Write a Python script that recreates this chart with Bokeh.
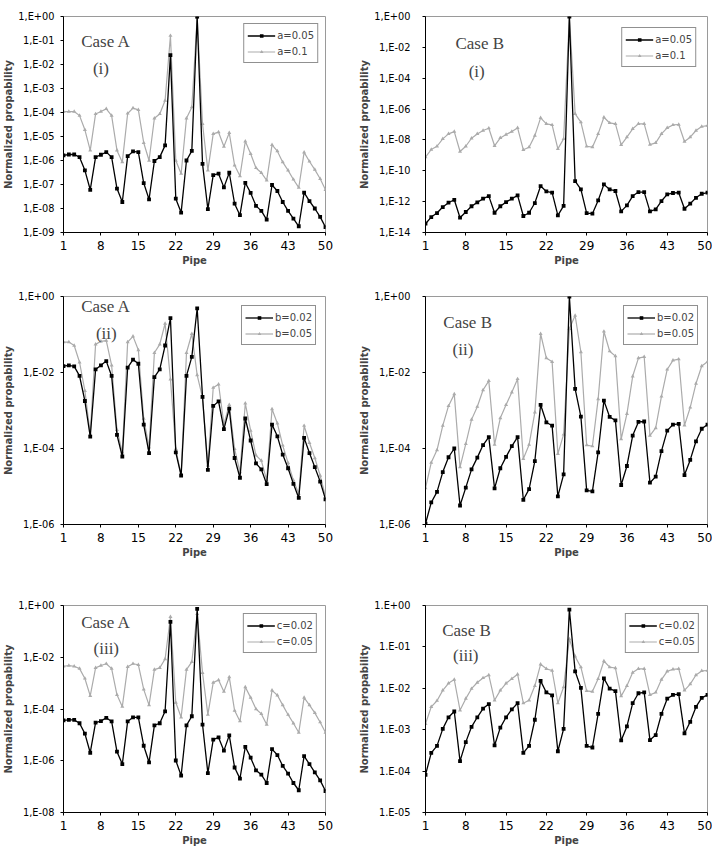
from bokeh.plotting import figure
from bokeh.layouts import column, row
from bokeh.models import FixedTicker, Label, Range1d
from bokeh.embed import file_html
from bokeh.resources import INLINE

pipe = list(range(1, 51))
x_ticks = [1, 8, 15, 22, 29, 36, 43, 50]

# values, stored as log10 of the normalized probability
A_i_a005 = [-5.79, -5.75, -5.75, -5.86, -6.41, -7.22, -5.86, -5.76, -5.65, -5.86,
            -7.17, -7.73, -5.82, -5.62, -5.65, -6.94, -7.62, -6.02, -5.86, -5.37,
            -1.61, -7.59, -8.17, -6.00, -5.60, 0.00, -6.14, -8.03, -6.61, -6.55,
            -7.12, -6.51, -7.80, -8.28, -6.93, -7.35, -7.89, -8.10, -8.46, -7.02,
            -7.27, -7.73, -8.10, -8.42, -8.74, -7.34, -7.69, -8.00, -8.35, -8.78]
A_i_a01 = [-3.96, -3.96, -3.96, -4.13, -4.72, -5.58, -4.06, -3.96, -3.85, -4.13,
           -5.58, -6.07, -4.04, -3.82, -3.89, -5.26, -6.00, -4.24, -4.06, -3.50,
           -0.80, -6.00, -6.55, -4.24, -3.78, -0.04, -4.47, -6.41, -4.89, -4.82,
           -5.42, -4.85, -6.20, -6.65, -5.20, -5.72, -6.31, -6.51, -6.83, -5.35,
           -5.61, -6.07, -6.41, -6.79, -7.13, -5.66, -6.04, -6.38, -6.76, -7.22]
B_i_a005 = [-13.43, -13.00, -12.74, -12.35, -12.07, -11.88, -13.04, -12.67, -12.30, -12.05,
            -11.81, -11.64, -12.72, -12.30, -12.03, -11.81, -11.59, -12.93, -12.72, -12.09,
            -10.99, -11.34, -11.42, -12.89, -12.28, 0.00, -10.67, -11.21, -12.74, -12.78,
            -11.92, -10.88, -11.21, -11.31, -12.63, -12.24, -11.64, -11.38, -11.38, -12.63,
            -12.50, -11.96, -11.53, -11.44, -11.42, -12.46, -12.13, -11.75, -11.49, -11.42]
B_i_a01 = [-9.12, -8.62, -8.41, -7.93, -7.61, -7.46, -8.75, -8.41, -7.89, -7.61,
           -7.39, -7.24, -8.38, -7.87, -7.65, -7.46, -7.22, -8.64, -8.47, -7.72,
           -6.57, -6.96, -7.03, -8.58, -7.93, 0.00, -6.31, -6.85, -8.41, -8.47,
           -7.61, -6.53, -6.90, -6.96, -8.32, -7.82, -7.28, -6.96, -6.96, -8.30,
           -8.19, -7.61, -7.22, -7.03, -7.00, -8.10, -7.82, -7.39, -7.13, -7.07]
A_ii_b002 = [-1.83, -1.81, -1.84, -2.09, -2.75, -3.69, -1.92, -1.81, -1.70, -2.09,
             -3.64, -4.21, -1.87, -1.66, -1.77, -3.37, -4.12, -2.12, -1.92, -1.29,
             -0.57, -4.10, -4.71, -2.09, -1.59, -0.31, -2.64, -4.56, -2.88, -2.76,
             -3.49, -2.95, -4.25, -4.77, -3.21, -3.79, -4.39, -4.55, -4.94, -3.37,
             -3.68, -4.16, -4.52, -4.93, -5.30, -3.72, -4.12, -4.49, -4.87, -5.34]
A_ii_b005 = [-1.20, -1.20, -1.29, -1.73, -2.48, -3.62, -1.26, -1.18, -1.16, -1.81,
             -3.51, -4.10, -1.20, -1.05, -1.41, -3.21, -3.97, -1.48, -1.26, -0.71,
             -2.18, -4.01, -4.71, -1.48, -0.98, -2.07, -2.66, -4.45, -2.40, -2.31,
             -3.36, -2.85, -4.01, -4.62, -2.81, -3.53, -4.18, -4.32, -4.84, -2.96,
             -3.34, -3.92, -4.38, -4.84, -5.19, -3.40, -3.85, -4.25, -4.71, -5.27]
B_ii_b002 = [-5.98, -5.42, -5.14, -4.62, -4.23, -4.00, -5.50, -5.03, -4.55, -4.24,
             -3.91, -3.70, -5.05, -4.52, -4.22, -3.94, -3.70, -5.35, -5.07, -4.33,
             -2.85, -3.31, -3.40, -5.26, -4.68, 0.00, -2.43, -3.16, -5.10, -5.13,
             -4.10, -2.74, -3.17, -3.26, -4.96, -4.46, -3.66, -3.30, -3.29, -4.90,
             -4.74, -4.07, -3.53, -3.37, -3.35, -4.70, -4.30, -3.81, -3.48, -3.37]
B_ii_b005 = [-5.04, -4.37, -4.04, -3.40, -2.88, -2.57, -4.49, -3.88, -3.24, -2.90,
             -2.46, -2.22, -3.90, -3.20, -2.85, -2.52, -2.17, -4.27, -3.90, -3.05,
             -0.98, -1.62, -1.72, -4.14, -3.63, -0.85, -0.50, -1.46, -3.91, -3.94,
             -2.70, -0.92, -1.44, -1.57, -3.75, -3.09, -2.10, -1.62, -1.59, -3.66,
             -3.46, -2.63, -1.92, -1.68, -1.65, -3.39, -2.92, -2.29, -1.83, -1.72]
A_iii_c002 = [-4.44, -4.42, -4.42, -4.55, -4.95, -5.69, -4.53, -4.47, -4.34, -4.48,
              -5.65, -6.13, -4.48, -4.32, -4.32, -5.42, -6.06, -4.63, -4.55, -4.09,
              -0.63, -5.99, -6.57, -4.63, -4.28, -0.13, -4.60, -6.48, -5.18, -5.10,
              -5.61, -5.02, -6.26, -6.69, -5.46, -5.88, -6.37, -6.54, -6.86, -5.55,
              -5.78, -6.20, -6.50, -6.86, -7.14, -5.82, -6.13, -6.45, -6.76, -7.17]
A_iii_c005 = [-2.35, -2.32, -2.35, -2.44, -2.82, -3.49, -2.41, -2.32, -2.25, -2.44,
              -3.45, -3.91, -2.37, -2.25, -2.29, -3.24, -3.85, -2.48, -2.41, -2.07,
              -0.44, -3.75, -4.32, -2.48, -2.18, -0.32, -2.60, -4.22, -2.98, -2.88,
              -3.33, -2.77, -4.06, -4.47, -3.15, -3.56, -4.00, -4.19, -4.60, -3.28,
              -3.47, -3.85, -4.22, -4.55, -4.91, -3.56, -3.85, -4.15, -4.51, -4.91]
B_iii_c002 = [-4.09, -3.56, -3.39, -2.98, -2.70, -2.56, -3.76, -3.30, -2.93, -2.70,
              -2.49, -2.38, -3.38, -2.95, -2.70, -2.51, -2.36, -3.56, -3.39, -2.76,
              -1.82, -2.10, -2.17, -3.52, -2.98, -0.10, -1.59, -1.99, -3.39, -3.43,
              -2.62, -1.76, -2.01, -2.07, -3.26, -2.92, -2.36, -2.12, -2.10, -3.25,
              -3.13, -2.62, -2.25, -2.16, -2.14, -3.09, -2.81, -2.45, -2.23, -2.16]
B_iii_c005 = [-2.86, -2.45, -2.30, -2.05, -1.88, -1.79, -2.53, -2.25, -2.01, -1.86,
              -1.75, -1.68, -2.29, -2.05, -1.88, -1.77, -1.66, -2.36, -2.29, -1.94,
              -1.42, -1.53, -1.57, -2.36, -1.97, -0.81, -1.23, -1.49, -2.06, -2.08,
              -1.77, -1.34, -1.49, -1.51, -2.19, -1.94, -1.62, -1.53, -1.53, -2.16,
              -2.10, -1.79, -1.59, -1.54, -1.53, -2.05, -1.90, -1.68, -1.58, -1.57]

# y-axis ticks (exponents) and labels
ticks_1 = [0, -1, -2, -3, -4, -5, -6, -7, -8, -9]
labels_1 = ["1,E+00", "1,E-01", "1,E-02", "1,E-03", "1,E-04", "1,E-05", "1,E-06", "1,E-07", "1,E-08", "1,E-09"]
ticks_2 = [0, -2, -4, -6, -8, -10, -12, -14]
labels_2 = ["1,E+00", "1,E-02", "1,E-04", "1,E-06", "1,E-08", "1,E-10", "1,E-12", "1,E-14"]
ticks_3 = [0, -2, -4, -6]
labels_3 = ["1,E+00", "1,E-02", "1,E-04", "1,E-06"]
ticks_5 = [0, -2, -4, -6, -8]
labels_5 = ["1,E+00", "1,E-02", "1,E-04", "1,E-06", "1,E-08"]
ticks_6 = [0, -1, -2, -3, -4, -5]
labels_6 = ["1.E+00", "1.E-01", "1.E-02", "1.E-03", "1.E-04", "1.E-05"]

GRAY = "#ababab"
SANS = "DejaVu Sans"
SERIF = "Liberation Serif"


def panel(black, gray, lab_black, lab_gray, ticks, labels, case_txt, roman,
          case_xy, roman_xy, w, h, bl, br, bt, bb, y_standoff, lmargin):
    ys = [10.0 ** e for e in ticks]
    p = figure(width=w, height=h, y_axis_type="log",
               x_range=Range1d(1, 50), y_range=Range1d(min(ys), max(ys)),
               output_backend="svg", toolbar_location=None,
               min_border_left=bl, min_border_right=br,
               min_border_top=bt, min_border_bottom=bb)
    p.xgrid.visible = False
    p.ygrid.visible = False
    p.outline_line_color = "#9a9a9a"
    p.outline_line_width = 1
    p.background_fill_color = "white"
    p.border_fill_color = "white"

    yb = [10.0 ** v for v in black]
    yg = [10.0 ** v for v in gray]
    p.line(pipe, yg, color=GRAY, line_width=1.2, legend_label=lab_gray)
    p.scatter(pipe, yg, marker="triangle", size=4, fill_color=GRAY, line_color=None,
              legend_label=lab_gray)
    p.line(pipe, yb, color="black", line_width=1.3, legend_label=lab_black)
    p.scatter(pipe, yb, marker="square", size=3.8, fill_color="black", line_color=None,
              legend_label=lab_black)

    xa = p.xaxis[0]
    xa.ticker = FixedTicker(ticks=x_ticks)
    xa.minor_tick_line_color = None
    xa.major_tick_in = 0
    xa.major_tick_out = 3
    xa.major_label_standoff = 5
    xa.major_label_text_font = SANS
    xa.major_label_text_font_size = "12px"
    xa.major_label_text_color = "black"
    xa.axis_label = "Pipe"
    xa.axis_label_text_font = SANS
    xa.axis_label_text_font_style = "bold"
    xa.axis_label_text_font_size = "10px"
    xa.axis_label_standoff = 2
    xa.axis_line_color = "black"

    ya = p.yaxis[0]
    ya.ticker = FixedTicker(ticks=ys)
    ya.major_label_overrides = {y: lab for y, lab in zip(ys, labels)}
    ya.minor_tick_line_color = None
    ya.major_tick_in = 0
    ya.major_tick_out = 3
    ya.major_label_standoff = y_standoff
    ya.major_label_text_font = SANS
    ya.major_label_text_font_size = "9.8px"
    ya.major_label_text_color = "black"
    ya.axis_label = "Normalized propability"
    ya.axis_label_text_font = SANS
    ya.axis_label_text_font_style = "bold"
    ya.axis_label_text_font_size = "10px"
    ya.axis_label_standoff = 1
    ya.axis_line_color = "black"

    p.add_layout(Label(x=case_xy[0], y=10.0 ** case_xy[1], text=case_txt,
                       text_font=SERIF, text_font_size="17px",
                       text_align="left", text_baseline="middle"))
    p.add_layout(Label(x=roman_xy[0], y=10.0 ** roman_xy[1], text=roman,
                       text_font=SERIF, text_font_size="17px",
                       text_align="center", text_baseline="middle"))

    lg = p.legend[0]
    lg.items = [lg.items[1], lg.items[0]]
    lg.location = "top_right"
    lg.margin = lmargin
    lg.border_line_color = "#222222"
    lg.border_line_width = 1
    lg.background_fill_alpha = 1
    lg.padding = 3
    lg.spacing = 0
    lg.label_height = 16
    lg.glyph_height = 9
    lg.glyph_width = 28
    lg.label_standoff = 2
    lg.label_text_font = SANS
    lg.label_text_font_size = "10px"
    return p


p1 = panel(A_i_a005, A_i_a01, "a=0.05", "a=0.1", ticks_1, labels_1, "Case A", "(i)",
           (4.3, -1.04), (8.0, -2.16), 356, 280, 60, 31, 16, 48, 6, 7)
p2 = panel(B_i_a005, B_i_a01, "a=0.05", "a=0.1", ticks_2, labels_2, "Case B", "(i)",
           (6.2, -1.77), (9.9, -3.56), 356, 280, 66, 5, 16, 48, 12, 11)
p3 = panel(A_ii_b002, A_ii_b005, "b=0.02", "b=0.05", ticks_3, labels_3, "Case A", "(ii)",
           (4.3, -0.26), (9.0, -0.98), 356, 280, 60, 31, 15, 36, 6, 9)
p4 = panel(B_ii_b002, B_ii_b005, "b=0.02", "b=0.05", ticks_3, labels_3, "Case B", "(ii)",
           (4.1, -0.69), (7.5, -1.39), 356, 280, 66, 5, 16, 34, 12, 9)
p5 = panel(A_iii_c002, A_iii_c005, "c=0.02", "c=0.05", ticks_5, labels_5, "Case A", "(iii)",
           (4.3, -0.64), (9.0, -1.65), 356, 290, 60, 31, 45, 35, 6, 8)
p6 = panel(B_iii_c002, B_iii_c005, "c=0.02", "c=0.05", ticks_6, labels_6, "Case B", "(iii)",
           (3.9, -0.61), (8.0, -1.20), 356, 290, 67, 5, 26, 38, 12, 8)

layout = column(row(p1, p2), row(p3, p4), row(p5, p6))
open("out.html", "w").write(file_html(layout, INLINE))
